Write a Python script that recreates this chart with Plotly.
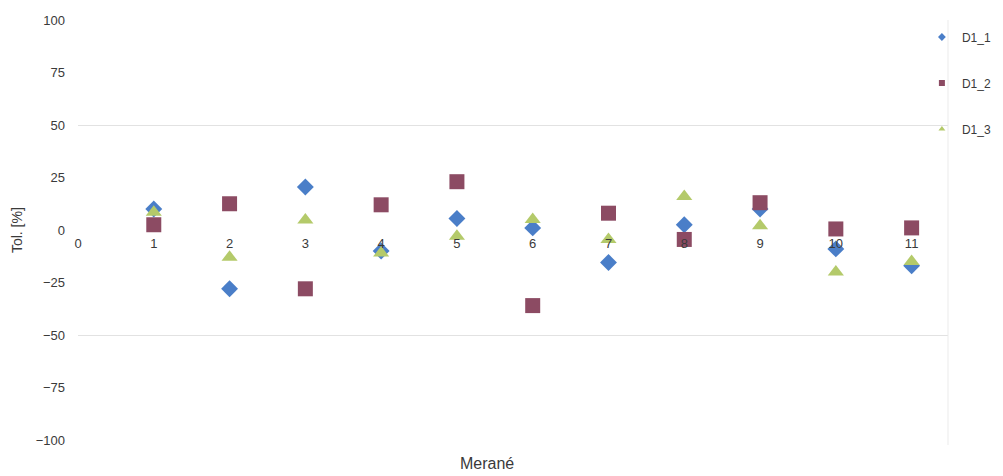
import plotly.graph_objects as go

# categories (measurement index)
X = [1, 2, 3, 4, 5, 6, 7, 8, 9, 10, 11]
X_TICKS = [0, 1, 2, 3, 4, 5, 6, 7, 8, 9, 10, 11]
Y_TICKS = [-100, -75, -50, -25, 0, 25, 50, 75, 100]
GRID_LEVELS = [-50, 50]

# series values (Tol. [%])
D1_1 = [10, -28, 20.5, -10, 5.5, 1, -15.5, 2.5, 10, -9, -17]
D1_2 = [2.5, 12.5, -28, 12, 23, -36, 8, -4.5, 13, 0.5, 1]
D1_3 = [8.5, -13, 4.8, -11, -3, 5, -4.5, 16, 2, -20, -15]

FONT = "Liberation Sans, Arial, sans-serif"
TXT = "#3a3a3a"

fig = go.Figure()
series = [
    ("D1_1", D1_1, "diamond", 13, "#4a7ec8"),
    ("D1_2", D1_2, "square", 15, "#8c4b63"),
    ("D1_3", D1_3, "triangle-up", 14, "#b4ca6a"),
]
for name, vals, sym, size, col in series:
    fig.add_trace(go.Scatter(
        x=X, y=vals, mode="markers", name=name, legendgroup=name,
        showlegend=False,
        marker=dict(symbol=sym, size=size, color=col, line=dict(width=0)),
    ))
# legend entries with the small symbols of the original legend
for name, vals, sym, size, col in series:
    fig.add_trace(go.Scatter(
        x=[None], y=[None], mode="markers", name=name, legendgroup=name,
        marker=dict(symbol=sym, size=6, color=col, line=dict(width=0)),
    ))

fig.update_layout(
    width=995, height=468,
    margin=dict(l=70, r=55, t=12, b=36, autoexpand=False),
    paper_bgcolor="white", plot_bgcolor="white",
    font=dict(family=FONT, size=13, color=TXT),
    showlegend=True,
    legend=dict(x=0.970, y=0.994, xanchor="left", yanchor="top",
                font=dict(size=12, color=TXT), tracegroupgap=27,
                itemwidth=30, bgcolor="rgba(0,0,0,0)"),
    xaxis=dict(range=[0, 11.48], tickvals=X_TICKS, showgrid=False,
               zeroline=False, showline=False, ticks="",
               anchor="free", position=0.5, ticklabelstandoff=4,
               tickfont=dict(size=13, color=TXT)),
    yaxis=dict(range=[-100, 100], tickvals=Y_TICKS, showgrid=False,
               zeroline=False, showline=False, ticks="",
               ticklabelstandoff=12, tickfont=dict(size=13, color=TXT),
               minor=dict(tickvals=GRID_LEVELS, showgrid=True,
                          gridcolor="#e2e2e2", gridwidth=1, ticks="")),
    shapes=[dict(type="line", xref="paper", yref="paper", x0=1, x1=1,
                 y0=-0.012, y1=1, line=dict(color="#ebebeb", width=1))],
    annotations=[
        dict(text="Tol. [%]", xref="paper", yref="paper", x=-0.070, y=0.5,
             xanchor="center", yanchor="middle",
             textangle=-90, showarrow=False, font=dict(size=14, color=TXT)),
        dict(text="Merané", xref="paper", yref="paper", x=0.47, y=-0.055,
             xanchor="center", yanchor="middle",
             showarrow=False, font=dict(size=16, color=TXT)),
    ],
)

fig.write_html("out.html")
